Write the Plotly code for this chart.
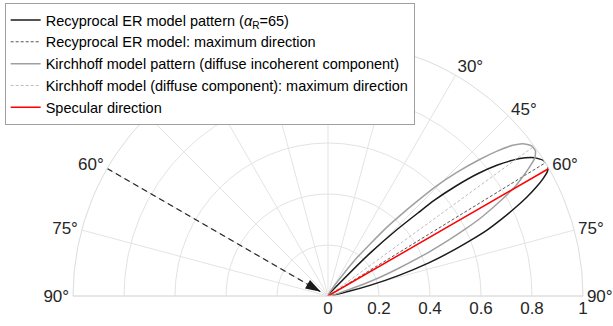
import plotly.graph_objects as go

# ---- data ----
# Reciprocal ER model lobe (theta in degrees from zenith, r normalised)
er_theta = [0, 43, 44.5, 46.0, 47.3, 48.0, 49.3, 50.8, 52.3, 53.7, 55.0, 56.2,
            57.8, 59.3, 60.4, 61.4, 62.4, 63.6, 65.0, 66.3, 67.5, 68.7, 70.2,
            71.8, 73.8, 75.8, 77.5, 0]
er_r = [0, 0.10, 0.24, 0.37, 0.48, 0.56, 0.66, 0.76, 0.84, 0.90, 0.945, 0.975,
        0.998, 1.003, 0.99, 0.96, 0.922, 0.869, 0.80, 0.735, 0.675, 0.60, 0.51,
        0.416, 0.29, 0.17, 0.08, 0]

# Kirchhoff diffuse incoherent lobe
kh_theta = [0, 36.5, 40.5, 42.3, 43.4, 44.5, 46.2, 48.0, 49.4, 50.8, 52.0,
            53.6, 55.0, 56.3, 57.4, 58.4, 59.6, 61.0, 62.8, 64.0, 65.0, 66.5,
            68.5, 70.5, 72.5, 0]
kh_r = [0, 0.17, 0.35, 0.45, 0.52, 0.60, 0.70, 0.80, 0.873, 0.935, 0.970,
        0.992, 0.993, 0.975, 0.938, 0.90, 0.853, 0.78, 0.68, 0.60, 0.53, 0.43,
        0.30, 0.20, 0.10, 0]

er_max_dir = 58.5
kh_max_dir = 54.0
specular_dir = 60.0
incident_dir = -60.0

radial_ticks = [0, 0.2, 0.4, 0.6, 0.8, 1]
ang_tickvals = [-90, -75, -60, -45, -30, -15, 0, 15, 30, 45, 60, 75, 90]
# labels hidden behind the legend in the reference are left blank
ang_ticktext = ["90°", "75°", "60°", "", "", "", "",
                "", "30°", "45°", "60°", "75°", "90°"]

FONT = "Liberation Sans, Arial, sans-serif"
TXT = "#262626"

fig = go.Figure()

fig.add_trace(go.Scatterpolar(
    r=er_r, theta=er_theta, mode="lines",
    line=dict(color="#1a1a1a", width=1.5, shape="spline", smoothing=0.5),
    name="Recyprocal ER model pattern (<i>α</i><sub>R</sub>=65)"))
fig.add_trace(go.Scatterpolar(
    r=[0, 1], theta=[er_max_dir, er_max_dir], mode="lines",
    line=dict(color="#555555", width=1, dash="3px,2px"),
    name="Recyprocal ER model: maximum direction"))
fig.add_trace(go.Scatterpolar(
    r=kh_r, theta=kh_theta, mode="lines",
    line=dict(color="#a0a0a0", width=1.5, shape="spline", smoothing=0.5),
    name="Kirchhoff model pattern (diffuse incoherent component)"))
fig.add_trace(go.Scatterpolar(
    r=[0, 1], theta=[kh_max_dir, kh_max_dir], mode="lines",
    line=dict(color="#bdbdbd", width=1, dash="3px,2px"),
    name="Kirchhoff model (diffuse component): maximum direction"))
fig.add_trace(go.Scatterpolar(
    r=[0, 1], theta=[specular_dir, specular_dir], mode="lines",
    line=dict(color="#ff0000", width=1.5),
    name="Specular direction"))

# incident direction arrow
fig.add_trace(go.Scatterpolar(
    r=[1, 0.035], theta=[incident_dir, incident_dir], mode="lines",
    line=dict(color="#262626", width=1.3, dash="6px,4px"),
    showlegend=False, hoverinfo="skip"))
fig.add_trace(go.Scatterpolar(
    r=[0.033], theta=[incident_dir], mode="markers",
    marker=dict(symbol="arrow", size=16, angle=120, color="#1a1a1a",
                line=dict(width=0)),
    showlegend=False, hoverinfo="skip"))

fig.update_layout(
    width=613, height=326,
    margin=dict(l=73, r=30, t=41, b=30, autoexpand=False),
    paper_bgcolor="white",
    font=dict(family=FONT, color=TXT, size=17),
    polar=dict(
        domain=dict(x=[0, 1], y=[0, 1]),
        sector=[0, 180],
        bgcolor="white",
        radialaxis=dict(
            range=[0, 1], tickvals=radial_ticks,
            ticktext=[str(v) for v in radial_ticks],
            angle=0, side="clockwise", tickangle=0,
            showline=False, ticks="",
            gridcolor="#e3e3e3", gridwidth=1,
            tickfont=dict(size=17, color=TXT, family=FONT),
        ),
        angularaxis=dict(
            rotation=90, direction="clockwise",
            tickmode="array", tickvals=ang_tickvals, ticktext=ang_ticktext,
            showline=True, linecolor="#dcdcdc", linewidth=1,
            gridcolor="#e3e3e3", gridwidth=1, ticks="",
            tickfont=dict(size=17, color=TXT, family=FONT),
        ),
    ),
    legend=dict(
        x=-0.134, y=1.149, xanchor="left", yanchor="top",
        bgcolor="white", bordercolor="#a0a0a0", borderwidth=1,
        font=dict(size=14.5, color="#000000", family=FONT),
        itemwidth=30, tracegroupgap=0,
    ),
    showlegend=True,
)

fig.write_html("out.html",
               config={"displayModeBar": False},
               post_script="document.body.style.margin='0';")
